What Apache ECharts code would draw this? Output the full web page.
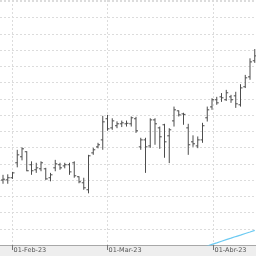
<!DOCTYPE html>
<html>
<head>
<meta charset="utf-8">
<script src="https://cdn.jsdelivr.net/npm/echarts@6/dist/echarts.min.js"></script>
<style>html,body{margin:0;padding:0;background:#fff}#c{width:256px;height:256px}</style>
</head>
<body>
<div id="c"></div>
<script>
// Trading days
var dates = [
 '2023-01-30','2023-01-31',
 '2023-02-01','2023-02-02','2023-02-03','2023-02-06','2023-02-07','2023-02-08','2023-02-09','2023-02-10',
 '2023-02-13','2023-02-14','2023-02-15','2023-02-16','2023-02-17','2023-02-20','2023-02-21','2023-02-22',
 '2023-02-23','2023-02-24','2023-02-27','2023-02-28',
 '2023-03-01','2023-03-02','2023-03-03','2023-03-06','2023-03-07','2023-03-08','2023-03-09','2023-03-10',
 '2023-03-13','2023-03-14','2023-03-15','2023-03-16','2023-03-17','2023-03-20','2023-03-21','2023-03-22',
 '2023-03-23','2023-03-24','2023-03-27','2023-03-28','2023-03-29','2023-03-30','2023-03-31',
 '2023-04-03','2023-04-04','2023-04-05','2023-04-06','2023-04-07','2023-04-10','2023-04-11','2023-04-12','2023-04-13'
];
var open  = [14.00,14.01,14.14,15.06,15.43,15.74,14.94,14.63,14.69,14.69,14.14,14.75,14.94,14.87,14.94,15.06,14.20,13.83,13.40,15.67,16.04,16.47,
             17.77,17.21,17.34,17.46,17.46,17.46,17.77,16.04,16.47,16.10,17.70,17.21,17.40,16.72,17.64,18.26,18.07,17.21,16.35,16.10,16.47,17.83,18.50,
             18.94,19.12,18.94,19.12,19.18,18.63,19.74,20.35,21.34];
var high  = [14.32,14.35,14.50,15.86,16.01,15.77,15.15,15.06,15.15,14.75,14.44,15.24,15.06,15.06,15.06,15.15,14.23,14.14,15.55,15.98,16.29,17.95,
             18.01,17.80,17.61,17.66,17.66,17.91,17.89,16.60,16.60,17.80,17.80,17.29,17.46,17.19,18.52,18.28,18.14,17.46,16.75,16.68,17.52,18.52,19.03,
             19.12,19.35,19.55,19.24,19.43,19.90,20.47,21.49,22.06];
var low   = [13.77,13.77,14.07,14.78,15.21,14.54,14.32,14.44,14.54,14.01,13.92,14.54,14.63,14.72,14.32,14.14,13.80,13.40,13.18,15.55,15.95,15.86,
             17.03,17.09,17.19,17.26,17.29,17.29,16.90,15.86,14.44,15.98,16.17,15.92,15.37,15.04,17.29,17.91,17.40,15.55,16.04,15.96,16.29,17.60,18.32,
             18.63,18.81,18.87,18.75,18.44,18.52,19.66,20.17,21.21];
var close = [14.05,14.14,14.44,15.55,15.92,14.57,14.57,14.75,15.06,14.07,14.32,15.00,14.75,14.94,14.50,14.26,13.89,13.52,15.49,15.86,16.17,17.58,
             17.15,17.64,17.46,17.52,17.49,17.83,17.03,16.47,16.04,17.70,17.46,16.66,16.35,17.09,18.32,18.01,18.04,16.17,16.23,16.47,17.34,18.32,18.94,
             18.75,19.06,19.37,18.94,18.69,19.67,20.29,21.27,21.64];
var indicator = [null,null,null,null,null,null,null,null,null,null,null,null,null,null,null,null,null,null,null,null,null,null,
                 null,null,null,null,null,null,null,null,null,null,null,null,null,null,null,null,null,null,9.66,9.75,9.85,9.94,10.04,
                 10.13,10.23,10.33,10.42,10.52,10.61,10.71,10.80,10.90];
var monthStarts = ['2023-02-01','2023-03-01','2023-04-01'];
var tickLabels = ['01-Feb-23','01-Mar-23','01-Abr-23'];

function t(s){ return Date.parse(s + 'T00:00:00Z'); }
function posOf(s){
  var T = t(s);
  for (var k = 0; k < dates.length; k++) {
    if (t(dates[k]) === T) return k;
    if (k + 1 < dates.length && t(dates[k]) < T && t(dates[k+1]) > T) {
      return k + (T - t(dates[k])) / (t(dates[k+1]) - t(dates[k]));
    }
  }
  return 0;
}
var tickPos = monthStarts.map(posOf);

var ohlc = dates.map(function(d, i){ return [i, open[i], high[i], low[i], close[i]]; });
var lineData = indicator.map(function(v, i){ return [i, v]; });

var chart = echarts.init(document.getElementById('c'), null, {renderer:'canvas'});
var barColor = '#4d4d4d';
chart.setOption({
  animation: false,
  backgroundColor: '#eeeeee',
  grid: {left: 0, right: 0, top: 0, bottom: 11, show: true, backgroundColor: '#ffffff', borderWidth: 0, containLabel: false, outerBoundsMode: 'none'},
  xAxis: {
    type: 'value',
    min: -0.6316, max: 53.263,
    axisLine: {show: true, onZero: false, lineStyle: {color: '#a8a8a8', width: 1}},
    axisTick: {show: true, length: 5, customValues: tickPos, lineStyle: {color: '#777'}},
    axisLabel: {
      show: true, customValues: tickPos, align: 'left', margin: 2, padding: [0,0,0,1],
      fontSize: 6.5, color: '#555', fontFamily: 'DejaVu Sans',
      formatter: function(v){
        var best = 0;
        for (var k = 1; k < tickPos.length; k++) if (Math.abs(tickPos[k]-v) < Math.abs(tickPos[best]-v)) best = k;
        return tickLabels[best];
      }
    },
    splitLine: {show: true, lineStyle: {color: '#dcdcdc', type: [2,2], width: 1}}
  },
  yAxis: {
    type: 'value', min: 10, max: 25.08, interval: 1,
    axisLine: {show: false}, axisTick: {show: false}, axisLabel: {show: false},
    splitLine: {show: true, lineStyle: {color: '#dcdcdc', type: [2,2], width: 1}}
  },
  series: [
    {
      type: 'custom',
      data: ohlc,
      encode: {x: 0, y: [1,2,3,4]},
      clip: true,
      renderItem: function(params, api){
        var x = api.value(0);
        var o = api.coord([x, api.value(1)]);
        var h = api.coord([x, api.value(2)]);
        var l = api.coord([x, api.value(3)]);
        var c = api.coord([x, api.value(4)]);
        var cx = o[0];
        var w = 2;
        var st = {stroke: barColor, lineWidth: 1};
        return {type: 'group', children: [
          {type: 'line', shape: {x1: cx, y1: h[1], x2: cx, y2: l[1]}, style: st},
          {type: 'line', shape: {x1: cx - w, y1: o[1], x2: cx, y2: o[1]}, style: st},
          {type: 'line', shape: {x1: cx, y1: c[1], x2: cx + w, y2: c[1]}, style: st}
        ]};
      }
    },
    {
      type: 'line',
      data: lineData,
      showSymbol: false,
      symbol: 'none',
      clip: true,
      connectNulls: false,
      lineStyle: {color: '#6ccaf2', width: 1.2}
    }
  ]
});
</script>
</body>
</html>
